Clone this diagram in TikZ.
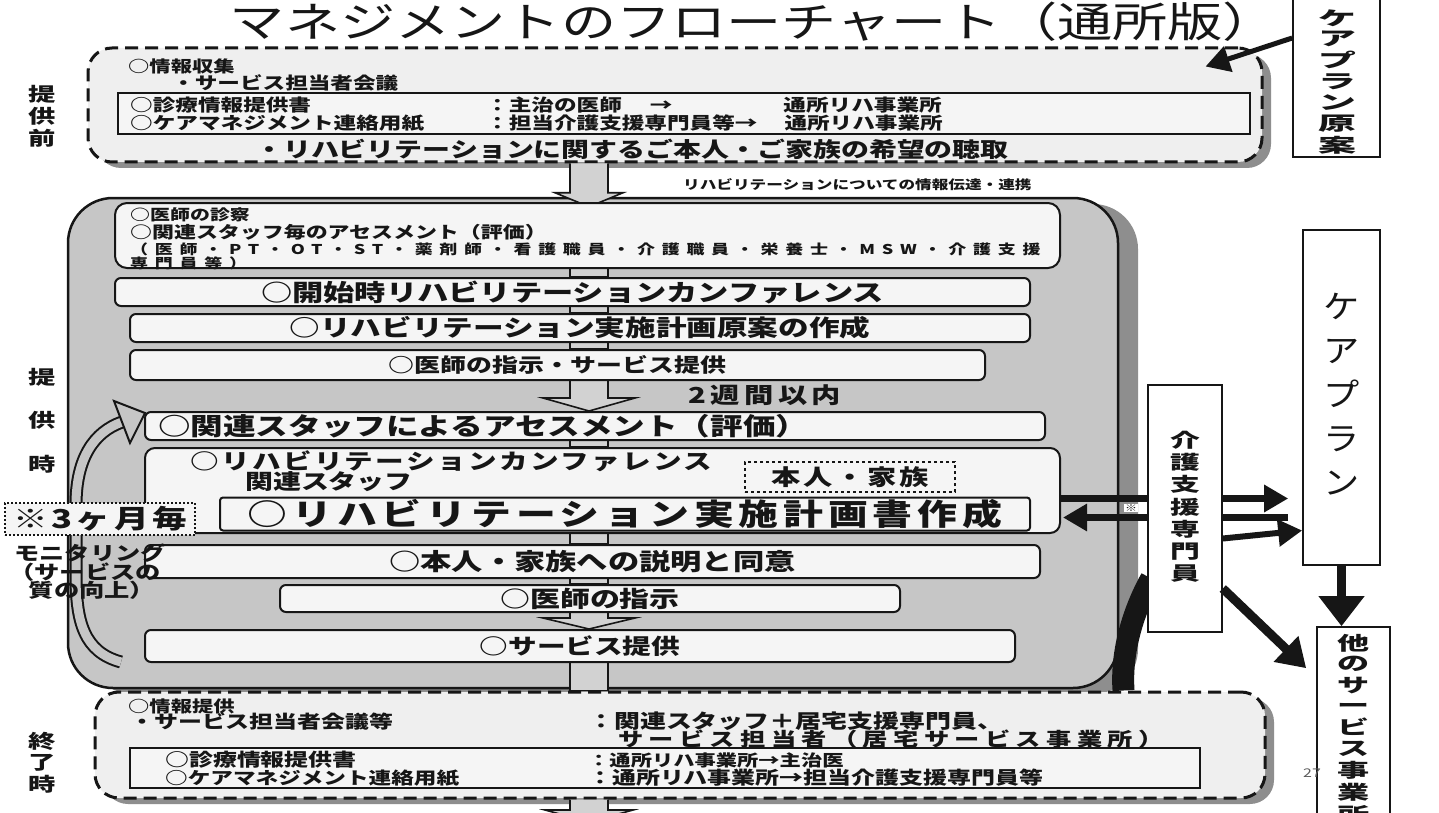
\documentclass[tikz,border=0pt]{standalone}
\usepackage{fontspec}
\usepackage{graphicx}
\setmainfont{Noto Sans CJK JP}[FakeStretch=1.33]
\usetikzlibrary{arrows.meta,calc,shadows}
\definecolor{ink}{HTML}{161616}
\definecolor{biggray}{HTML}{C6C6C6}
\definecolor{shade}{HTML}{8E8E8E}
\definecolor{boxfill}{HTML}{F5F5F5}
\definecolor{pale}{HTML}{EFEFEF}
\definecolor{arrfill}{HTML}{D2D2D2}
\pgfdeclarelayer{bg}\pgfdeclarelayer{mid}\pgfsetlayers{bg,mid,main}
\newcommand\myf[2]{\bfseries\fontsize{#1}{#1}\selectfont\addfontfeatures{LetterSpace=#2}}
\newcommand\vstk[4]{\scalebox{#1}[1]{\fontsize{#2}{#3}\selectfont\begin{tabular}{@{}c@{}}#4\end{tabular}}}
\newcommand\blockarr[4]{\draw[barrow] let \p1=(#1.south), \p2=(#2) in (570pt,\y1) -- (570pt,\y2+#3pt) -- (589pt-#4pt,\y2+#3pt) -- (589pt,\y2) -- (589pt+#4pt,\y2+#3pt) -- (608pt,\y2+#3pt) -- (608pt,\y1);}
\begin{document}
\begin{tikzpicture}[x=1pt,y=-1pt,
  txt/.style={inner sep=0pt, text=ink},
  bx/.style={draw=ink, line width=2pt, rounded corners=6pt, fill=boxfill, inner sep=0pt, text=ink},
  rbox/.style={draw=ink, line width=2pt, fill=boxfill, inner sep=0pt},
  dbox/.style={draw=ink, line width=3pt, dash pattern=on 13pt off 7pt, rounded corners=24pt, fill=pale, inner sep=0pt, drop shadow={shadow xshift=9pt, shadow yshift=-6pt, fill=shade, opacity=1}},
  bigbox/.style={draw=ink, line width=2.5pt, rounded corners=45pt, fill=biggray, inner sep=0pt, drop shadow={shadow xshift=20pt, shadow yshift=-6pt, fill=shade, opacity=1}},
  vbox/.style={draw=ink, line width=1.6pt, fill=white, inner sep=0pt, text=ink},
  barrow/.style={draw=ink, line width=1.6pt, fill=arrfill, line join=miter},
  harrow/.style={draw=ink, line width=7pt, -{Triangle[length=24pt,width=26pt]}}
]
\useasboundingbox (0,0) rectangle (1439,813);
\begin{pgfonlayer}{bg}
\fill[white] (0,0) rectangle (1439,813);
\node[dbox, minimum width=1174, minimum height=114] (tb) at (675,105) {};
\node[bigbox, minimum width=1050, minimum height=490] (big) at (593,443) {};
\node[dbox, minimum width=1170, minimum height=106] (bb) at (680,745) {};
\end{pgfonlayer}

% title
\node[txt, font=\fontsize{41.5}{41.5}\selectfont] (title) at (754,22) {マネジメントのフローチャート（通所版）};

% left phase labels
\node[txt, font=\bfseries] (ph1) at (42,118) {\vstk{1.08}{19}{19}{提\\供\\前}};
\node[txt, font=\bfseries] (ph2) at (42,419) {\vstk{1.08}{19}{43.5}{提\\供\\時}};
\node[txt, font=\bfseries] (ph3) at (42,765) {\vstk{1.08}{19}{20}{終\\了\\時}};

% top box contents
\node[txt, anchor=west, font={\myf{16}{0}}] (t1) at (128,66) {○情報収集};
\node[txt, anchor=west, font={\myf{17}{0}}] (t2) at (172,83) {・サービス担当者会議};
\node[rbox, minimum width=1132, minimum height=41] (ti) at (684,113.5) {};
\node[txt, anchor=west, font={\myf{17}{0}}] (t3) at (130,105) {○診療情報提供書};
\node[txt, anchor=west, font={\myf{17}{0}}] (t4) at (486,105) {：主治の医師\hspace{28pt}→\hspace{111pt}通所リハ事業所};
\node[txt, anchor=west, font={\myf{17}{0}}] (t5) at (130,123) {○ケアマネジメント連絡用紙};
\node[txt, anchor=west, font={\myf{17}{0}}] (t6) at (486,123) {：担当介護支援専門員等→\hspace{27pt}通所リハ事業所};
\node[txt, anchor=west, font={\myf{21}{0}}] (t7) at (255,149) {・リハビリテーションに関するご本人・ご家族の希望の聴取};
\node[txt, anchor=west, font={\myf{12.5}{0}}] (link) at (683,185) {リハビリテーションについての情報伝達・連携};

% middle boxes
\node[bx, rounded corners=12pt, minimum width=945, minimum height=65] (b1) at (587.5,235.5) {};
\node[txt, anchor=west, font={\myf{15}{0}}] (b1a) at (130,215) {○医師の診察};
\node[txt, anchor=west, font={\myf{16.5}{0}}] (b1b) at (130,232) {○関連スタッフ毎のアセスメント（評価）};
\node[txt, anchor=west, font={\myf{13.5}{50}}] (b1c) at (130,249) {（医師・PT・OT・ST・薬剤師・看護職員・介護職員・栄養士・MSW・介護支援};
\node[txt, anchor=west, font={\myf{13.5}{50}}] (b1d) at (130,263) {専門員等）};
\node[bx, minimum width=915, minimum height=28, font={\myf{23.5}{0}}] (b2) at (572.5,292) {○開始時リハビリテーションカンファレンス};
\node[bx, minimum width=900, minimum height=28, font={\myf{23}{0}}] (b3) at (580,328) {○リハビリテーション実施計画原案の作成};
\node[bx, minimum width=855, minimum height=30, font={\myf{19.5}{0}}] (b4) at (557.5,365) {○医師の指示・サービス提供};
\node[txt, font={\myf{22}{20}}] (wk) at (765,395) {2週間以内};
\node[bx, minimum width=900, minimum height=28] (b5) at (595,426) {};
\node[txt, anchor=west, font={\myf{24.5}{0}}] (b5t) at (158,426) {○関連スタッフによるアセスメント（評価）};
\node[bx, rounded corners=10pt, minimum width=915, minimum height=85] (b6) at (602.5,490.5) {};
\node[txt, anchor=west, font={\myf{21.5}{11}}] (b6a) at (190,461) {○リハビリテーションカンファレンス};
\node[txt, anchor=west, font={\myf{21}{0}}] (b6b) at (245,482) {関連スタッフ};
\node[draw=ink, line width=1.6pt, dashed, inner sep=0pt, minimum width=210, minimum height=30, text=ink, font={\myf{22}{12}}] (fam) at (850,477) {本人・家族};
\node[bx, rounded corners=3pt, minimum width=810, minimum height=33, font={\myf{30}{16}}] (b6i) at (625,514) {○リハビリテーション実施計画書作成};
\node[bx, minimum width=895, minimum height=33, font={\myf{23.5}{0}}] (b7) at (592.5,561.5) {○本人・家族への説明と同意};
\node[bx, minimum width=620, minimum height=27, font={\myf{22.5}{0}}] (b8) at (590,598.5) {○医師の指示};
\node[bx, minimum width=870, minimum height=32, font={\myf{21.5}{0}}] (b9) at (580,646) {○サービス提供};

% monitoring labels
\node[draw=ink, line width=2pt, dotted, fill=boxfill, inner sep=0pt, minimum width=190, minimum height=32, text=ink, font={\myf{26}{14}}] (tri) at (100,519) {※3ヶ月毎};
\node[txt, font={\myf{19}{0}}] (mo1) at (90,553) {モニタリング};
\node[txt, font={\myf{19}{0}}] (mo2) at (85,572) {（サービスの};
\node[txt, font={\myf{19}{0}}] (mo3) at (92,590) {質の向上）};

% bottom box contents
\node[txt, anchor=west, font={\myf{16}{0}}] (e1) at (128,706) {○情報提供};
\node[txt, anchor=west, font={\myf{18}{0}}] (e2) at (130,722) {・サービス担当者会議等};
\node[txt, anchor=west, font={\myf{19.5}{0}}] (e3) at (588,721) {：関連スタッフ＋居宅支援専門員、};
\node[txt, anchor=west, font={\myf{19}{28}}] (e4) at (618,739) {サービス担当者（居宅サービス事業所）};
\node[rbox, minimum width=1070, minimum height=40] (bi) at (665,768) {};
\node[txt, anchor=west, font={\myf{18}{0}}] (e5) at (165,760) {○診療情報提供書};
\node[txt, anchor=west, font={\myf{16}{0}}] (e6) at (588,760) {：通所リハ事業所→主治医};
\node[txt, anchor=west, font={\myf{17}{0}}] (e7) at (165,778) {○ケアマネジメント連絡用紙};
\node[txt, anchor=west, font={\myf{18}{0}}] (e8) at (588,778) {：通所リハ事業所→担当介護支援専門員等};

% right side boxes
\node[vbox, minimum width=87, minimum height=162] (cpo) at (1336.5,76) {};
\node[txt, font=\bfseries] (cpot) at (1337,84) {\vstk{1.5}{19}{19.5}{ケ\\ア\\プ\\ラ\\ン\\原\\案}};
\node[vbox, minimum width=77, minimum height=335] (cp) at (1341.5,397.5) {\vstk{0.85}{32}{44}{ケ\\ア\\プ\\ラ\\ン}};
\node[vbox, minimum width=74, minimum height=247, font=\bfseries] (km) at (1185,508.5) {\vstk{1.18}{19}{20.5}{介\\護\\支\\援\\専\\門\\員}};
\node[vbox, minimum width=73, minimum height=208, font=\bfseries] (os) at (1353.5,731) {\vstk{1.27}{19}{20}{他\\の\\サ\\ー\\ビ\\ス\\事\\業\\所}};
\node[fill=white, inner sep=1pt, text=ink, font={\myf{9}{0}}] (note) at (1131,508) {※};
\node[txt, font=\fontsize{12}{12}\selectfont, text=ink!70] (pg) at (1312,773) {27};

\coordinate (bend) at (589,822);

\begin{pgfonlayer}{mid}
% block arrows down the flow
\blockarr{tb}{$(big.north)+(0,10)$}{14}{34}
\blockarr{b1}{b2.north}{0}{19}
\blockarr{b2}{b3.north}{0}{19}
\blockarr{b3}{b4.north}{0}{19}
\blockarr{b4}{b5.north}{13}{46}
\blockarr{b5}{b6.north}{0}{19}
\blockarr{b6}{b7.north}{0}{19}
\blockarr{b7}{b8.north}{0}{19}
\blockarr{b8}{b9.north}{11}{46}
\blockarr{b9}{bb.north}{0}{19}
\blockarr{bb}{bend}{12}{44}
% loop arrow (monitoring)
\draw[line width=13pt, ink] (b9.west) ++(-23,16) .. controls (84,652) and (76,622) .. (76,575) -- (76,505) .. controls (76,458) and (94,432) .. (122,422);
\draw[line width=9pt, biggray] (b9.west) ++(-23,16) .. controls (84,652) and (76,622) .. (76,575) -- (76,505) .. controls (76,458) and (94,432) .. (122,422);
\filldraw[fill=biggray, draw=ink, line width=2pt, line join=miter] (114,401) -- ($(b5.west)+(1,-13)$) -- (130,443) -- cycle;
% right side connectors
\draw[harrow, line width=5pt] ($(cpo.west)+(0,-38)$) -- ($(tb.north east)+(-58,20)$);
\draw[harrow] ($(b6.east)+(0,8)$) -- ($(b6.east -| cp.west)+(-14,8)$);
\draw[harrow] ($(b6.east -| cp.west)+(-14,27)$) -- ($(b6.east)+(2,27)$);
\draw[line width=22pt, ink] ($(bb.north east)+(-143,0)$) .. controls ($(bb.north east)+(-146,-45)$) and ($(km.west)+(-10,95)$) .. ($(km.west)+(4,70)$);
\end{pgfonlayer}
\draw[harrow, line width=6pt] ($(km.east)+(0,30)$) -- ($(km.east -| cp.west)+(0,22)$);
\draw[harrow, line width=9pt, -{Triangle[length=28pt,width=34pt]}] ($(km.east)+(0,80)$) -- ($(os.north west)+(-10,42)$);
\draw[harrow, line width=9pt, -{Triangle[length=30pt,width=44pt]}] (cp.south) -- (cp.south |- os.north);
\end{tikzpicture}
\end{document}
